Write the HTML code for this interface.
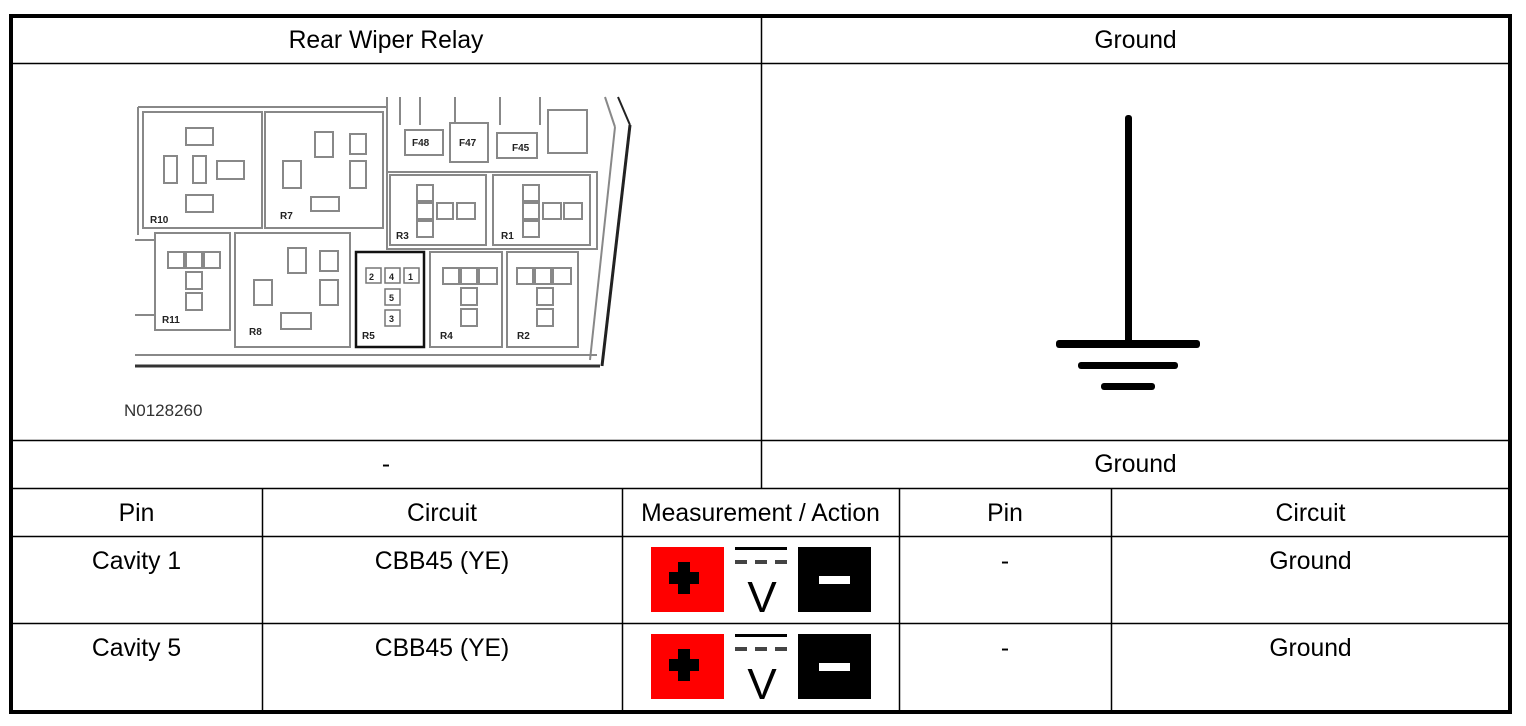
<!DOCTYPE html>
<html><head><meta charset="utf-8"><style>
html,body{margin:0;padding:0;background:#fff;}
body{width:1526px;height:726px;position:relative;overflow:hidden;font-family:"Liberation Sans",sans-serif;}
.t{position:absolute;font-size:24.7px;color:#000;text-align:center;line-height:26px;}
svg{position:absolute;left:0;top:0;}
</style></head><body>
<svg width="1526" height="726" viewBox="0 0 1526 726">
<rect x="11" y="16" width="1499" height="696" fill="none" stroke="#000" stroke-width="4"/>
<g stroke="#000" stroke-width="1.5">
<line x1="11" y1="63.5" x2="1510" y2="63.5"/>
<line x1="11" y1="440.5" x2="1510" y2="440.5"/>
<line x1="11" y1="488.5" x2="1510" y2="488.5"/>
<line x1="11" y1="536.5" x2="1510" y2="536.5"/>
<line x1="11" y1="623.5" x2="1510" y2="623.5"/>
<line x1="761.5" y1="16" x2="761.5" y2="488"/>
<line x1="262.5" y1="488" x2="262.5" y2="712"/>
<line x1="622.5" y1="488" x2="622.5" y2="712"/>
<line x1="899.5" y1="488" x2="899.5" y2="712"/>
<line x1="1111.5" y1="488" x2="1111.5" y2="712"/>
</g>
<g fill="#000">
<rect x="1125" y="115" width="7" height="232" rx="3"/>
<rect x="1056" y="340" width="144" height="8" rx="3"/>
<rect x="1078" y="362" width="100" height="7" rx="3"/>
<rect x="1101" y="383" width="54" height="7" rx="3"/>
</g>
<g fill="none" stroke="#888" stroke-width="2">
<line x1="138" y1="107" x2="387" y2="107"/>
<line x1="138" y1="107" x2="138" y2="235"/>
<rect x="143" y="112" width="119" height="116"/>
<rect x="265" y="112" width="118" height="116"/>
<rect x="387" y="172" width="210" height="77" />
<rect x="390" y="175" width="96" height="70"/>
<rect x="493" y="175" width="97" height="70"/>
<rect x="155" y="233" width="75" height="97"/>
<rect x="235" y="233" width="115" height="114"/>
<rect x="430" y="252" width="72" height="95"/>
<rect x="507" y="252" width="71" height="95"/>
<line x1="135" y1="355" x2="597" y2="355"/>
<line x1="387" y1="97" x2="387" y2="172"/>
<line x1="400" y1="97" x2="400" y2="125"/>
<line x1="420" y1="97" x2="420" y2="125"/>
<line x1="455" y1="97" x2="455" y2="123"/>
<line x1="500" y1="97" x2="500" y2="125"/>
<line x1="540" y1="97" x2="540" y2="125"/>
<rect x="405" y="130" width="38" height="25"/>
<rect x="450" y="123" width="38" height="39"/>
<rect x="497" y="133" width="40" height="25"/>
<rect x="548" y="110" width="39" height="43"/>
<line x1="605" y1="97" x2="615" y2="127"/>
<line x1="615" y1="127" x2="590" y2="360"/>
<line x1="135" y1="240" x2="155" y2="240"/>
<line x1="135" y1="315" x2="155" y2="315"/>
<rect x="186" y="128" width="27" height="17"/>
<rect x="164" y="156" width="13" height="27"/>
<rect x="193" y="156" width="13" height="27"/>
<rect x="217" y="161" width="27" height="18"/>
<rect x="186" y="195" width="27" height="17"/>
<rect x="315" y="132" width="18" height="25"/>
<rect x="350" y="134" width="16" height="20"/>
<rect x="283" y="161" width="18" height="27"/>
<rect x="350" y="161" width="16" height="27"/>
<rect x="311" y="197" width="28" height="14"/>
<rect x="417" y="185" width="16" height="16"/>
<rect x="417" y="203" width="16" height="16"/>
<rect x="437" y="203" width="16" height="16"/>
<rect x="457" y="203" width="18" height="16"/>
<rect x="417" y="221" width="16" height="16"/>
<rect x="523" y="185" width="16" height="16"/>
<rect x="523" y="203" width="16" height="16"/>
<rect x="543" y="203" width="18" height="16"/>
<rect x="564" y="203" width="18" height="16"/>
<rect x="523" y="221" width="16" height="16"/>
<rect x="168" y="252" width="16" height="16"/><rect x="186" y="252" width="16" height="16"/><rect x="204" y="252" width="16" height="16"/>
<rect x="186" y="272" width="16" height="17"/><rect x="186" y="293" width="16" height="17"/>
<rect x="288" y="248" width="18" height="25"/><rect x="320" y="251" width="18" height="20"/>
<rect x="254" y="280" width="18" height="25"/><rect x="320" y="280" width="18" height="25"/>
<rect x="281" y="313" width="30" height="16"/>
<rect x="443" y="268" width="16" height="16"/><rect x="461" y="268" width="16" height="16"/><rect x="479" y="268" width="18" height="16"/>
<rect x="461" y="288" width="16" height="17"/><rect x="461" y="309" width="16" height="17"/>
<rect x="517" y="268" width="16" height="16"/><rect x="535" y="268" width="16" height="16"/><rect x="553" y="268" width="18" height="16"/>
<rect x="537" y="288" width="16" height="17"/><rect x="537" y="309" width="16" height="17"/>
</g>
<line x1="135" y1="366" x2="600" y2="366" stroke="#333" stroke-width="3"/>
<line x1="630" y1="125" x2="602" y2="366" stroke="#222" stroke-width="3"/>
<line x1="618" y1="97" x2="630" y2="125" stroke="#222" stroke-width="2"/>
<rect x="356" y="252" width="68" height="95" fill="none" stroke="#111" stroke-width="2.5"/>
<g fill="none" stroke="#777" stroke-width="1.5">
<rect x="366" y="268" width="15" height="15"/><rect x="385" y="268" width="15" height="15"/><rect x="404" y="268" width="15" height="15"/>
<rect x="385" y="289" width="15" height="16"/><rect x="385" y="310" width="15" height="16"/>
</g>
<g font-family="Liberation Sans, sans-serif" font-size="10" font-weight="bold" fill="#222">
<text x="150" y="223">R10</text><text x="280" y="219">R7</text><text x="396" y="239">R3</text><text x="501" y="239">R1</text>
<text x="162" y="323">R11</text><text x="249" y="335">R8</text><text x="362" y="339">R5</text><text x="440" y="339">R4</text><text x="517" y="339">R2</text>
<text x="412" y="146">F48</text><text x="459" y="146">F47</text><text x="512" y="151">F45</text>
<text x="369" y="280" font-size="9">2</text><text x="389" y="280" font-size="9">4</text><text x="408" y="280" font-size="9">1</text>
<text x="389" y="301" font-size="9">5</text><text x="389" y="322" font-size="9">3</text>
</g>
<g>
<rect x="651" y="547" width="73" height="65" fill="#f00"/>
<rect x="678" y="562" width="12" height="32" fill="#000"/><rect x="669" y="572" width="30" height="12" fill="#000"/>
<rect x="735" y="547" width="52" height="3" fill="#000"/>
<rect x="735" y="560" width="12" height="4" fill="#444"/><rect x="755" y="560" width="12" height="4" fill="#444"/><rect x="775" y="560" width="12" height="4" fill="#444"/>
<text x="762" y="612" font-family="Liberation Sans, sans-serif" font-size="44" text-anchor="middle" fill="#000">V</text>
<rect x="798" y="547" width="73" height="65" fill="#000"/>
<rect x="819" y="576" width="31" height="8" fill="#fff"/>
<rect x="651" y="634" width="73" height="65" fill="#f00"/>
<rect x="678" y="649" width="12" height="32" fill="#000"/><rect x="669" y="659" width="30" height="12" fill="#000"/>
<rect x="735" y="634" width="52" height="3" fill="#000"/>
<rect x="735" y="647" width="12" height="4" fill="#444"/><rect x="755" y="647" width="12" height="4" fill="#444"/><rect x="775" y="647" width="12" height="4" fill="#444"/>
<text x="762" y="699" font-family="Liberation Sans, sans-serif" font-size="44" text-anchor="middle" fill="#000">V</text>
<rect x="798" y="634" width="73" height="65" fill="#000"/>
<rect x="819" y="663" width="31" height="8" fill="#fff"/>
</g>
</svg>
<div class="t" style="left:11px;width:750px;top:28px;">Rear Wiper Relay</div>
<div class="t" style="left:761px;width:749px;top:28px;">Ground</div>
<div class="t" style="left:124px;top:398px;font-size:17px;text-align:left;color:#333;">N0128260</div>
<div class="t" style="left:11px;width:750px;top:452px;">-</div>
<div class="t" style="left:761px;width:749px;top:452px;">Ground</div>
<div class="t" style="left:11px;width:251px;top:501px;">Pin</div>
<div class="t" style="left:262px;width:360px;top:501px;">Circuit</div>
<div class="t" style="left:622px;width:277px;top:501px;">Measurement / Action</div>
<div class="t" style="left:899px;width:212px;top:501px;">Pin</div>
<div class="t" style="left:1111px;width:399px;top:501px;">Circuit</div>
<div class="t" style="left:11px;width:251px;top:549px;">Cavity 1</div>
<div class="t" style="left:262px;width:360px;top:549px;">CBB45 (YE)</div>
<div class="t" style="left:899px;width:212px;top:549px;">-</div>
<div class="t" style="left:1111px;width:399px;top:549px;">Ground</div>
<div class="t" style="left:11px;width:251px;top:636px;">Cavity 5</div>
<div class="t" style="left:262px;width:360px;top:636px;">CBB45 (YE)</div>
<div class="t" style="left:899px;width:212px;top:636px;">-</div>
<div class="t" style="left:1111px;width:399px;top:636px;">Ground</div>
</body></html>
